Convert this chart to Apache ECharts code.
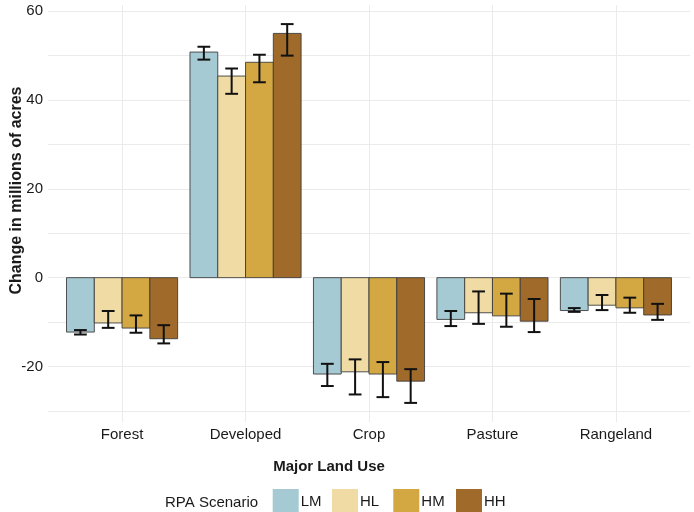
<!DOCTYPE html>
<html>
<head>
<meta charset="utf-8">
<script src="https://cdn.jsdelivr.net/npm/echarts@6/dist/echarts.min.js"></script>
<style>
html,body{margin:0;padding:0;background:#fff;}
#chart{width:694px;height:512px;}
</style>
</head>
<body>
<div id="chart"></div>
<script>
const categories = ['Forest', 'Developed', 'Crop', 'Pasture', 'Rangeland'];
const scenarios = ['LM', 'HL', 'HM', 'HH'];
const colors = ['#a6cad3', '#f0dba5', '#d3a842', '#9f6a2a'];

const meanLM = [-12.25, 50.8, -21.7, -9.4, -7.4];
const meanHL = [-10.2, 45.4, -21.2, -7.9, -6.2];
const meanHM = [-11.35, 48.5, -21.7, -8.6, -6.8];
const meanHH = [-13.75, 55.0, -23.3, -9.8, -8.4];

const lowLM = [-12.8, 49.1, -24.4, -10.9, -7.7];
const lowHL = [-11.3, 41.4, -26.3, -10.4, -7.3];
const lowHM = [-12.4, 44.0, -26.9, -11.05, -7.9];
const lowHH = [-14.8, 50.0, -28.2, -12.25, -9.5];

const highLM = [-11.8, 52.0, -19.4, -7.5, -6.85];
const highHL = [-7.5, 47.1, -18.4, -3.1, -3.9];
const highHM = [-8.5, 50.2, -19.0, -3.6, -4.5];
const highHH = [-10.7, 57.1, -20.6, -4.8, -5.9];

const yMajorTicks = [-20, 0, 20, 40, 60];
const yAllTicks = [-30, -20, -10, 0, 10, 20, 30, 40, 50, 60];
const xTicks = [1, 2, 3, 4, 5];

const means = [meanLM, meanHL, meanHM, meanHH];
const lows = [lowLM, lowHL, lowHM, lowHH];
const highs = [highLM, highHL, highHM, highHH];

const FONT = 'Liberation Sans, Arial, Helvetica, sans-serif';
const TXT = '#1a1a1a';

function renderItem(params, api) {
  const s = params.seriesIndex;
  const x = api.value(0), v = api.value(1), lo = api.value(2), hi = api.value(3);
  const unit = api.size([1, 0])[0];
  const barW = unit * 0.9 / 4;
  const base = api.coord([x, 0]);
  const cx = base[0] + (s - 1.5) * barW;
  const yv = api.coord([x, v])[1];
  const yLo = api.coord([x, lo])[1];
  const yHi = api.coord([x, hi])[1];
  const cap = barW * 0.46;
  const es = { stroke: '#111', lineWidth: 2, fill: null };
  return {
    type: 'group',
    children: [
      { type: 'rect',
        shape: { x: cx - barW / 2, y: Math.min(base[1], yv), width: barW, height: Math.abs(base[1] - yv) },
        style: { fill: colors[s], stroke: '#3d3d3d', lineWidth: 0.9 } },
      { type: 'line', shape: { x1: cx, y1: yLo, x2: cx, y2: yHi }, style: es },
      { type: 'line', shape: { x1: cx - cap / 2, y1: yLo, x2: cx + cap / 2, y2: yLo }, style: es },
      { type: 'line', shape: { x1: cx - cap / 2, y1: yHi, x2: cx + cap / 2, y2: yHi }, style: es }
    ]
  };
}

const series = scenarios.map((name, s) => ({
  name: name,
  type: 'custom',
  renderItem: renderItem,
  itemStyle: { color: colors[s] },
  encode: { x: 0, y: 1 },
  data: categories.map((c, i) => [i + 1, means[s][i], lows[s][i], highs[s][i]]),
  z: 5
}));

const legendLefts = [272.7, 332, 393.3, 456];
const legends = scenarios.map((name, s) => ({
  data: [name],
  left: legendLefts[s],
  top: 489,
  orient: 'horizontal',
  icon: 'rect',
  itemWidth: 26,
  itemHeight: 26,
  padding: 0,
  selectedMode: false,
  itemStyle: { borderWidth: 0 },
  textStyle: { fontSize: 15, color: TXT, fontFamily: FONT, padding: [0, 0, 0, -3] }
}));

const chart = echarts.init(document.getElementById('chart'), null, { renderer: 'canvas' });
chart.setOption({
  animation: false,
  backgroundColor: '#ffffff',
  textStyle: { fontFamily: FONT },
  grid: { left: 48, right: 4, top: 5, bottom: 90, containLabel: false },
  xAxis: {
    type: 'value', min: 0.4, max: 5.6,
    axisLine: { show: false },
    axisTick: { show: false, customValues: xTicks },
    axisLabel: {
      customValues: xTicks,
      formatter: (v) => categories[Math.round(v) - 1],
      fontSize: 15, color: TXT, fontFamily: FONT, margin: 5
    },
    splitLine: { show: true, lineStyle: { color: '#ebebeb', width: 1 } }
  },
  yAxis: {
    type: 'value', min: -32.5, max: 61.4,
    axisLine: { show: false },
    axisTick: { show: false, customValues: yAllTicks },
    axisLabel: { customValues: yMajorTicks, fontSize: 15, color: TXT, fontFamily: FONT, margin: 5, padding: [3, 0, 0, 0] },
    splitLine: { show: true, lineStyle: { color: '#ebebeb', width: 1 } }
  },
  legend: legends,
  graphic: [
    { type: 'text', x: 17, y: 190.5, rotation: Math.PI / 2,
      style: { text: 'Change in millions of acres', fontSize: 16, fontWeight: 'bold', fill: TXT, fontFamily: FONT, align: 'center', verticalAlign: 'middle' } },
    { type: 'text', x: 329, y: 467,
      style: { text: 'Major Land Use', fontSize: 15, fontWeight: 'bold', fill: TXT, fontFamily: FONT, align: 'center', verticalAlign: 'middle' } },
    { type: 'text', x: 165, y: 502.5,
      style: { text: 'RPA Scenario', fontSize: 15, fill: TXT, fontFamily: FONT, align: 'left', verticalAlign: 'middle' } }
  ],
  series: series
});
</script>
</body>
</html>
